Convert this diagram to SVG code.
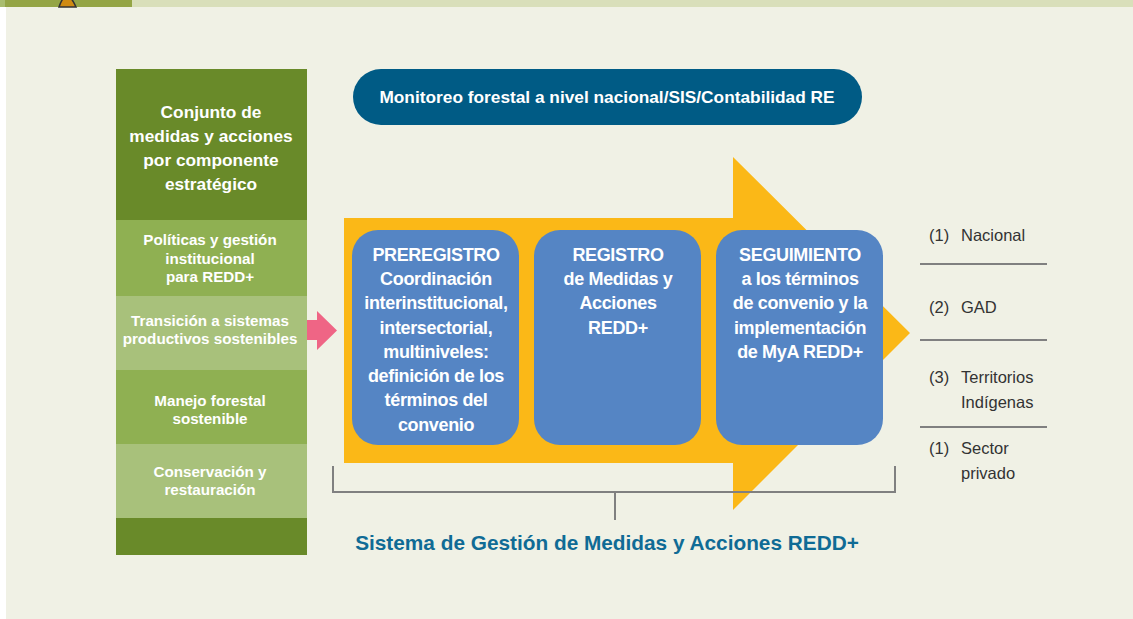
<svg xmlns="http://www.w3.org/2000/svg" width="1133" height="619" viewBox="0 0 1133 619">
<defs>
<style>
.cond{font-family:"Liberation Sans Narrow","Liberation Sans",Arial,sans-serif;font-weight:bold;fill:#ffffff;text-anchor:middle}
.hdr{font-size:17.3px}
.cat{font-size:15.2px}
.box{fill:#5585c4}
.bt{font-size:18px;letter-spacing:-0.35px}
.lst{font-family:"Liberation Sans",Arial,sans-serif;font-size:16.5px;fill:#333333}
.rule{stroke:#808080;stroke-width:2;fill:none}
</style>
</defs>
<rect x="0" y="0" width="1133" height="619" fill="#ffffff"/>
<rect x="6" y="0" width="1127" height="619" fill="#f0f1e5"/>
<g id="topbar">
<rect x="0" y="0" width="1133" height="7" fill="#d9dfba"/>
<rect x="0" y="0" width="132" height="7" fill="#94a545"/>
<rect x="0" y="0" width="5" height="7" fill="#a9bd6e"/>
<path d="M59 7 Q62 -2 67 -6 Q72 -2 76 7 Z" fill="#cf8a12" stroke="#333333" stroke-width="1.5"/>
</g>
<g id="left-panel">
<rect x="116" y="69" width="191" height="151" fill="#698a29"/>
<rect x="116" y="220" width="191" height="76" fill="#8fb052"/>
<rect x="116" y="296" width="191" height="74" fill="#a8c17b"/>
<rect x="116" y="370" width="191" height="74" fill="#8fb052"/>
<rect x="116" y="444" width="191" height="74" fill="#a8c17b"/>
<rect x="116" y="518" width="191" height="37" fill="#698a29"/>
<text class="cond hdr" x="211" y="118">Conjunto de</text>
<text class="cond hdr" x="211" y="142">medidas y acciones</text>
<text class="cond hdr" x="211" y="166">por componente</text>
<text class="cond hdr" x="211" y="190">estratégico</text>
<text class="cond cat" x="210" y="245">Políticas y gestión</text>
<text class="cond cat" x="210" y="264">institucional</text>
<text class="cond cat" x="210" y="282">para REDD+</text>
<text class="cond cat" x="210" y="326">Transición a sistemas</text>
<text class="cond cat" x="210" y="344">productivos sostenibles</text>
<text class="cond cat" x="210" y="406">Manejo forestal</text>
<text class="cond cat" x="210" y="424">sostenible</text>
<text class="cond cat" x="210" y="477">Conservación y</text>
<text class="cond cat" x="210" y="495">restauración</text>
</g>
<g id="monitoreo">
<rect x="353" y="69" width="509" height="56" rx="28" fill="#005b85"/>
<text class="cond" x="607" y="103" font-size="17.3">Monitoreo forestal a nivel nacional/SIS/Contabilidad RE</text>
</g>
<g id="connectors">
<path d="M307 320 H317 V311 L337 330.5 L317 350 V340 H307 Z" fill="#ef6585"/>
<path d="M344 218 H733 V157 L910 333 L733 510 V463 H344 Z" fill="#fbb817"/>
<path class="rule" d="M333 466 V492 H895 V466 M615 492 V520"/>
</g>
<g id="preregistro">
<rect class="box" x="352" y="230" width="167" height="215" rx="26"/>
<text class="cond bt" x="436" y="261">PREREGISTRO</text>
<text class="cond bt" x="436" y="285">Coordinación</text>
<text class="cond bt" x="436" y="309">interinstitucional,</text>
<text class="cond bt" x="436" y="334">intersectorial,</text>
<text class="cond bt" x="436" y="358">multiniveles:</text>
<text class="cond bt" x="436" y="382">definición de los</text>
<text class="cond bt" x="436" y="406">términos del</text>
<text class="cond bt" x="436" y="431">convenio</text>
</g>
<g id="registro">
<rect class="box" x="534" y="230" width="167" height="215" rx="26"/>
<text class="cond bt" x="618" y="261">REGISTRO</text>
<text class="cond bt" x="618" y="285">de Medidas y</text>
<text class="cond bt" x="618" y="309">Acciones</text>
<text class="cond bt" x="618" y="334">REDD+</text>
</g>
<g id="seguimiento">
<rect class="box" x="716" y="230" width="167" height="215" rx="26"/>
<text class="cond bt" x="800" y="261">SEGUIMIENTO</text>
<text class="cond bt" x="800" y="285">a los términos</text>
<text class="cond bt" x="800" y="309">de convenio y la</text>
<text class="cond bt" x="800" y="334">implementación</text>
<text class="cond bt" x="800" y="358">de MyA REDD+</text>
</g>
<g id="niveles">
<text class="lst" x="929" y="241">(1)</text>
<text class="lst" x="961" y="241">Nacional</text>
<line class="rule" x1="920" y1="264" x2="1047" y2="264"/>
<text class="lst" x="929" y="313">(2)</text>
<text class="lst" x="961" y="313">GAD</text>
<line class="rule" x1="920" y1="340" x2="1047" y2="340"/>
<text class="lst" x="929" y="383">(3)</text>
<text class="lst" x="961" y="383">Territorios</text>
<text class="lst" x="961" y="408">Indígenas</text>
<line class="rule" x1="920" y1="427" x2="1047" y2="427"/>
<text class="lst" x="929" y="454">(1)</text>
<text class="lst" x="961" y="454">Sector</text>
<text class="lst" x="961" y="479">privado</text>
</g>
<g id="sistema">
<text x="607" y="550" font-family="'Liberation Sans',Arial,sans-serif" font-weight="bold" font-size="20.8" fill="#0f6b95" text-anchor="middle">Sistema de Gestión de Medidas y Acciones REDD+</text>
</g>
</svg>
